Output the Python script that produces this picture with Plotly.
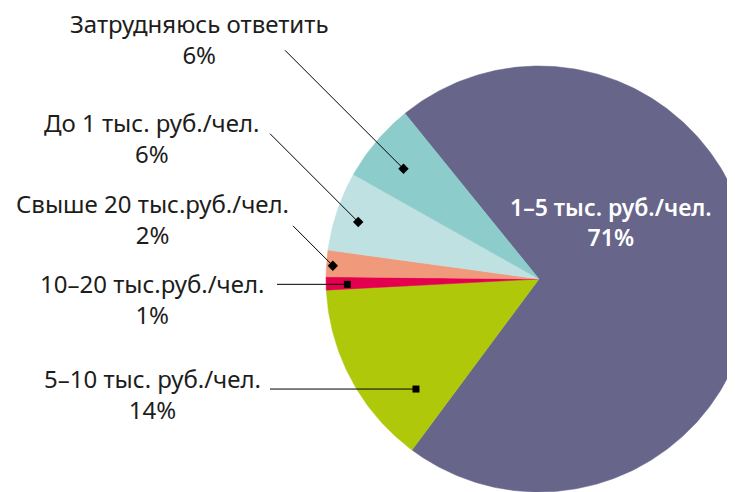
import numpy as np
import plotly.graph_objects as go

categories = ["1–5 тыс. руб./чел.", "5–10 тыс. руб./чел.", "10–20 тыс.руб./чел.",
              "Свыше 20 тыс.руб./чел.", "До 1 тыс. руб./чел.", "Затрудняюсь ответить"]
shares = [71, 14, 1, 2, 6, 6]
colors = ["#67658a", "#afc90a", "#e4004f", "#f0997b", "#bfe1e1", "#8ccccb"]

# canvas in pixels, pie is partly cut off at the right edge like the original
W, H = 735, 492
OFF = 8  # page body margin, so axis units line up with screen pixels
CX, CY, R = 539, 279, 213
START = -39  # degrees clockwise from 12 o'clock

FONT = "Noto Sans"

edges = START + 360 * np.concatenate([[0], np.cumsum(shares)]) / sum(shares)


def point(angle, r):
    a = np.radians(angle)
    return CX + r * np.sin(a), CY - r * np.cos(a)


fig = go.Figure()

# --- slices ---
for i, (cat, val, col) in enumerate(zip(categories, shares, colors)):
    arc = np.linspace(edges[i], edges[i + 1], max(int(val * 4), 8))
    px, py = point(arc, R)
    fig.add_trace(go.Scatter(
        x=[CX, *px, CX], y=[CY, *py, CY],
        mode="lines", fill="toself", fillcolor=col,
        line=dict(color=col, width=0.5),
        hoverinfo="text", text=f"{cat}: {val}%", showlegend=False
    ))

# --- callouts: slice, label centre, outer end of leader, horizontal?, spot in slice ---
callouts = [
    (5, 199, 39, 285, False, 0.45, 0.82),
    (4, 152, 138, 270, False, 0.45, 0.89),
    (3, 152, 219, 293, False, 0.43, 0.97),
    (2, 152, 299, 277, True, 0.39, 0.90),
    (1, 152, 394, 270, True, 0.23, 0.775),
]

for idx, tx, ty, lx, horiz, fa, fr in callouts:
    ang = edges[idx] + fa * (edges[idx + 1] - edges[idx])
    mx, my = point(ang, fr * R)
    ly = my if horiz else my - (mx - lx)
    fig.add_trace(go.Scatter(
        x=[lx, mx], y=[ly, my], mode="lines",
        line=dict(color="black", width=1),
        hoverinfo="skip", showlegend=False
    ))
    fig.add_trace(go.Scatter(
        x=[mx], y=[my], mode="markers",
        marker=dict(symbol="square" if horiz else "diamond",
                    size=7 if horiz else 8, color="black",
                    line=dict(width=0)),
        hoverinfo="skip", showlegend=False
    ))
    fig.add_annotation(
        x=tx, y=ty, xref="x", yref="y", showarrow=False, align="center",
        text=f"{categories[idx]}<br>{shares[idx]}%",
        font=dict(family=FONT, size=24, color="#1d1d1b")
    )

# label inside the big slice
fig.add_annotation(
    x=611, y=222, xref="x", yref="y", showarrow=False, align="center",
    text=f"{categories[0]}<br>{shares[0]}%",
    font=dict(family=FONT, size=23, color="white", weight=600)
)

fig.update_layout(
    width=W, height=H,
    margin=dict(l=0, r=0, t=0, b=0),
    paper_bgcolor="white", plot_bgcolor="white",
    xaxis=dict(range=[OFF, W + OFF], visible=False, fixedrange=True),
    yaxis=dict(range=[H + OFF, OFF], visible=False, fixedrange=True),
)

fig.write_html("out.html")
